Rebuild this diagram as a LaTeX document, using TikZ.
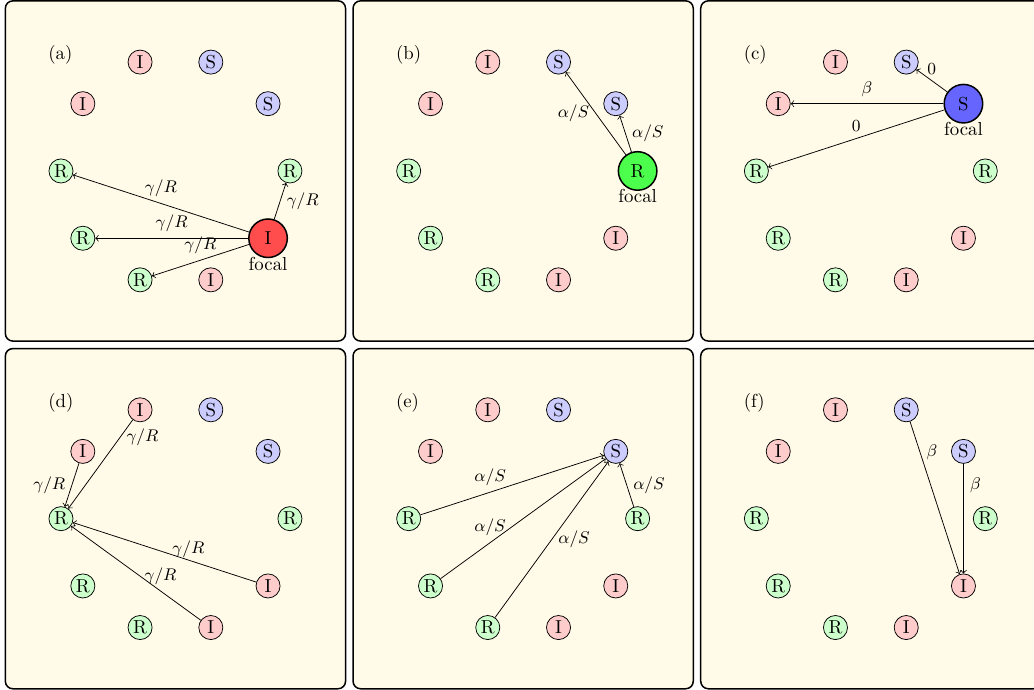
\documentclass[tikz,border=0pt]{standalone}
\usepackage{amsmath}
\usepackage{amssymb}
\usetikzlibrary{positioning}

\definecolor{panelbg}{RGB}{255,251,232}
\def\ringr{2.14}

\tikzset{
  panel/.style={draw, thick, rounded corners, fill=panelbg},
  agent/.style={circle, draw, inner sep=0pt, minimum size=0.45cm},
  Snode/.style={agent, fill=blue!20},
  Inode/.style={agent, fill=red!20},
  Rnode/.style={agent, fill=green!20},
  focal/.style={circle, draw, thick, inner sep=0pt, minimum size=0.72cm},
  Sfocal/.style={focal, fill=blue!60},
  Ifocal/.style={focal, fill=red!70},
  Rfocal/.style={focal, fill=green!70},
  rate/.style={font=\small},
}

\begin{document}
\begin{tikzpicture}
\useasboundingbox (-3.28,-9.70) rectangle (16.05,3.196);

% (a)
\begin{scope}[shift={(0,0)}]
  \draw[panel] (-3.18,-3.18) rectangle (3.18,3.18);
  \node[anchor=west] (alabel) at (-2.5,2.17) {(a)};
  % Vertices
  \foreach \k/\t/\s in {0/R/Rnode,1/S/Snode,2/S/Snode,3/I/Inode,4/I/Inode,5/R/Rnode,6/R/Rnode,7/R/Rnode,8/I/Inode,9/I/Ifocal}
    \node[\s] (a\k) at (36*\k:\ringr) {\t};
  \node[below=-1pt of a9, inner sep=0pt] (afocal) {focal};
  % Edges
  \draw[->] (a9) -- node[rate, above] {$\gamma/R$} (a5);
  \draw[->] (a9) -- node[rate, above] {$\gamma/R$} (a6);
  \draw[->] (a9) -- node[rate, above] {$\gamma/R$} (a7);
  \draw[->] (a9) -- node[rate, right] {$\gamma/R$} (a0);
\end{scope}

% (b)
\begin{scope}[shift={(6.5,0)}]
  \draw[panel] (-3.18,-3.18) rectangle (3.18,3.18);
  \node[anchor=west] (blabel) at (-2.5,2.17) {(b)};
  % Vertices
  \foreach \k/\t/\s in {0/R/Rfocal,1/S/Snode,2/S/Snode,3/I/Inode,4/I/Inode,5/R/Rnode,6/R/Rnode,7/R/Rnode,8/I/Inode,9/I/Inode}
    \node[\s] (b\k) at (36*\k:\ringr) {\t};
  \node[below=-1pt of b0, inner sep=0pt] (bfocal) {focal};
  % Edges
  \draw[->] (b0) -- node[rate, left] {$\alpha/S$} (b2);
  \draw[->] (b0) -- node[rate, right] {$\alpha/S$} (b1);
\end{scope}

% (c)
\begin{scope}[shift={(13,0)}]
  \draw[panel] (-3.18,-3.18) rectangle (3.18,3.18);
  \node[anchor=west] (clabel) at (-2.5,2.17) {(c)};
  % Vertices
  \foreach \k/\t/\s in {0/R/Rnode,1/S/Sfocal,2/S/Snode,3/I/Inode,4/I/Inode,5/R/Rnode,6/R/Rnode,7/R/Rnode,8/I/Inode,9/I/Inode}
    \node[\s] (c\k) at (36*\k:\ringr) {\t};
  \node[below=-1pt of c1, inner sep=0pt] (cfocal) {focal};
  % Edges
  \draw[->] (c1) -- node[rate, above] {$0$} (c2);
  \draw[->] (c1) -- node[rate, above] {$\beta$} (c4);
  \draw[->] (c1) -- node[rate, above] {$0$} (c5);
\end{scope}

% (d)
\begin{scope}[shift={(0,-6.5)}]
  \draw[panel] (-3.18,-3.18) rectangle (3.18,3.18);
  \node[anchor=west] (dlabel) at (-2.5,2.17) {(d)};
  % Vertices
  \foreach \k/\t/\s in {0/R/Rnode,1/S/Snode,2/S/Snode,3/I/Inode,4/I/Inode,5/R/Rnode,6/R/Rnode,7/R/Rnode,8/I/Inode,9/I/Inode}
    \node[\s] (d\k) at (36*\k:\ringr) {\t};
  % Edges
  \draw[->] (d3) -- node[rate, pos=0.2, right] {$\gamma/R$} (d5);
  \draw[->] (d4) -- node[rate, left] {$\gamma/R$} (d5);
  \draw[->] (d9) -- node[rate, pos=0.37, above, inner sep=1pt] {$\gamma/R$} (d5);
  \draw[->] (d8) -- node[rate, pos=0.31, above] {$\gamma/R$} (d5);
\end{scope}

% (e)
\begin{scope}[shift={(6.5,-6.5)}]
  \draw[panel] (-3.18,-3.18) rectangle (3.18,3.18);
  \node[anchor=west] (elabel) at (-2.5,2.17) {(e)};
  % Vertices
  \foreach \k/\t/\s in {0/R/Rnode,1/S/Snode,2/S/Snode,3/I/Inode,4/I/Inode,5/R/Rnode,6/R/Rnode,7/R/Rnode,8/I/Inode,9/I/Inode}
    \node[\s] (e\k) at (36*\k:\ringr) {\t};
  % Edges
  \draw[->] (e5) -- node[rate, pos=0.38, above] {$\alpha/S$} (e1);
  \draw[->] (e6) -- node[rate, pos=0.3, above] {$\alpha/S$} (e1);
  \draw[->] (e7) -- node[rate, right] {$\alpha/S$} (e1);
  \draw[->] (e0) -- node[rate, right] {$\alpha/S$} (e1);
\end{scope}

% (f)
\begin{scope}[shift={(13,-6.5)}]
  \draw[panel] (-3.18,-3.18) rectangle (3.18,3.18);
  \node[anchor=west] (flabel) at (-2.5,2.17) {(f)};
  % Vertices
  \foreach \k/\t/\s in {0/R/Rnode,1/S/Snode,2/S/Snode,3/I/Inode,4/I/Inode,5/R/Rnode,6/R/Rnode,7/R/Rnode,8/I/Inode,9/I/Inode}
    \node[\s] (f\k) at (36*\k:\ringr) {\t};
  % Edges
  \draw[->] (f2) -- node[rate, pos=0.2, right] {$\beta$} (f9);
  \draw[->] (f1) -- node[rate, pos=0.2, right] {$\beta$} (f9);
\end{scope}
\end{tikzpicture}
\end{document}
